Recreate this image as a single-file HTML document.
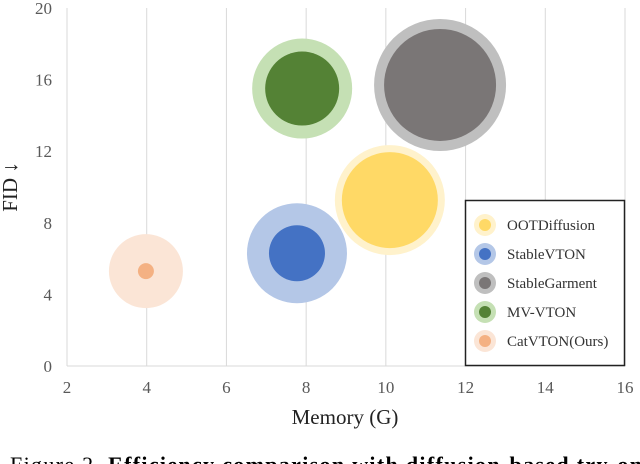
<!DOCTYPE html>
<html><head><meta charset="utf-8"><style>
body{margin:0;background:#fff;width:640px;height:464px;overflow:hidden;font-family:"Liberation Serif",serif}
svg{display:block}
</style></head><body>
<svg id="chart" width="640" height="464"></svg>
<script>
const names=["OOTDiffusion","StableVTON","StableGarment","MV-VTON","CatVTON(Ours)"];
const memory=[10.1,7.77,11.36,7.9,3.98];
const fid=[9.27,6.3,15.7,15.5,5.3];
const outerSize=[55,50,66,50,37];
const innerSize=[48,28,56,37,8];
const xTicks=[2,4,6,8,10,12,14,16];
const yTicks=[0,4,8,12,16,20];
const innerColors=["#FFD966","#4472C4","#7A7676","#548235","#F4B183"];
const outerColors=["#FFF2CC","#B4C7E7","#BFBFBF","#C5E0B4","#FBE5D6"];
const NS="http://www.w3.org/2000/svg";
const svg=document.getElementById('chart');
const X0=67,X1=625,Y0=366,Y1=8;
const xs=v=>X0+(v-2)/(16-2)*(X1-X0);
const ys=v=>Y0-(v/20)*(Y0-Y1);
const rs=v=>v;
function mk(t,a,p){const e=document.createElementNS(NS,t);for(const k in a)e.setAttribute(k,a[k]);(p||svg).appendChild(e);return e;}
xTicks.forEach(t=>{
  const l=mk('line',{x1:xs(t),x2:xs(t),y1:Y1,y2:Y0,stroke:'#d9d9d9','stroke-width':1});
  
  
  const tx=mk('text',{x:xs(t),y:393,'text-anchor':'middle','font-size':17,fill:'#595959'});
  tx.textContent=t;
  
  
});
const ax=mk('line',{x1:X0,x2:X1,y1:Y0,y2:Y0,stroke:'#d9d9d9','stroke-width':1});


yTicks.forEach(t=>{
  const tx=mk('text',{x:52,y:ys(t)+6,'text-anchor':'end','font-size':17,fill:'#595959'});
  tx.textContent=t;
  
  
});
names.forEach((n,i)=>{
  const o=mk('circle',{cx:xs(memory[i]),cy:ys(fid[i]),r:rs(outerSize[i]),fill:outerColors[i]});
  
  
  const c=mk('circle',{cx:xs(memory[i]),cy:ys(fid[i]),r:rs(innerSize[i]),fill:innerColors[i]});
  
  
});
const lg=mk('rect',{x:465.5,y:200.5,width:159,height:165,fill:'#fff',stroke:'#222','stroke-width':1.5});


names.forEach((n,i)=>{
  const y=225+i*29;
  const a=mk('circle',{cx:485,cy:y,r:11,fill:outerColors[i]});
  
  
  const b=mk('circle',{cx:485,cy:y,r:6,fill:innerColors[i]});
  
  
  const t=mk('text',{x:507,y:y+5,'font-size':15,fill:'#333'});
  t.textContent=n;
  
  
});
const xt=mk('text',{x:345,y:424,'text-anchor':'middle','font-size':21,fill:'#222'});
xt.textContent='Memory (G)';


const yt=mk('text',{x:0,y:0,'text-anchor':'middle','font-size':21,fill:'#222',transform:'translate(17,187) rotate(-90)'});
yt.textContent='FID ↓';


const cap=mk('text',{x:10,y:472,'font-size':22,fill:'#000',textLength:632,lengthAdjust:'spacing'});
cap.innerHTML='Figure 2.  <tspan font-weight="bold">Efficiency comparison with diffusion-based try-on</tspan>';


</script>
</body></html>
